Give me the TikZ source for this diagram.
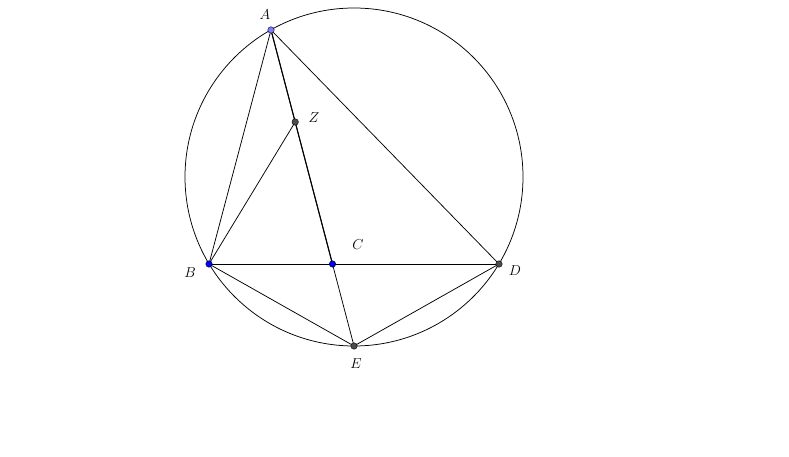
\documentclass[tikz,border=0pt]{standalone}
\begin{document}
\begin{tikzpicture}[x=1pt,y=-1pt,
  seg/.style={line width=0.75pt},
  pt/.style={circle,draw=black,line width=0.4pt,inner sep=0pt,minimum size=6.5pt},
  lbl/.style={font=\fontsize{13.5}{15}\selectfont}]
\useasboundingbox (0,0) rectangle (789,457);
\coordinate (O) at (354,177);
\draw[seg] (O) circle[radius=169];
\coordinate (A) at (271,30);
\coordinate (Z) at (295.2,122);
\coordinate (B) at (209,264);
\coordinate (C) at (332.5,264);
\coordinate (D) at (499,264);
\coordinate (E) at (354,346);
\draw[seg] (A) -- (B);
\draw[seg] (A) -- (D);
\draw[seg] (A) -- (E);
\draw[line width=1.1pt] (A) -- (C);
\draw[seg] (B) -- (Z);
\draw[seg] (B) -- (D);
\draw[seg] (B) -- (E);
\draw[seg] (D) -- (E);
\node[pt,fill={rgb,255:red,125;green,125;blue,255}] (nA) at (A) {};
\node[pt,fill=black!70] (nZ) at (Z) {};
\node[pt,fill=blue] (nB) at (B) {};
\node[pt,fill=blue] (nC) at (C) {};
\node[pt,fill=black!70] (nD) at (D) {};
\node[pt,fill=black!70] (nE) at (E) {};
\node[lbl] (lA) at (265,15) {$A$};
\node[lbl] (lZ) at (314,118) {$Z$};
\node[lbl] (lC) at (358,245) {$C$};
\node[lbl] (lB) at (190,273) {$B$};
\node[lbl] (lD) at (515,271) {$D$};
\node[lbl] (lE) at (356,364) {$E$};
\end{tikzpicture}
\end{document}
